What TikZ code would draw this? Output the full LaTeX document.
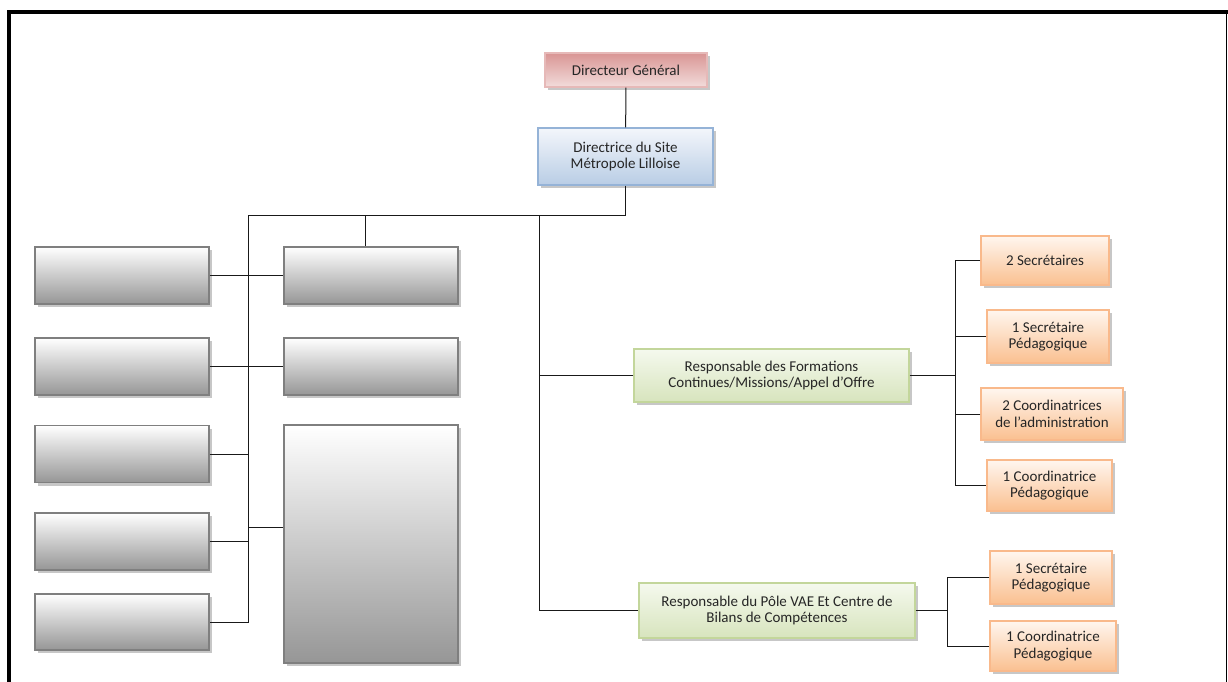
\documentclass[tikz,border=0pt]{standalone}
\usepackage{fontspec}
\setmainfont{Carlito}
\usepackage{tikz}
\usepackage{xcolor}
\usetikzlibrary{shapes, shadows}

\definecolor{pinktop}{RGB}{217,149,148}
\definecolor{pinkbot}{RGB}{242,220,219}
\definecolor{pinkline}{RGB}{230,185,184}
\definecolor{bluetop}{RGB}{243,246,251}
\definecolor{bluebot}{RGB}{185,205,229}
\definecolor{blueline}{RGB}{149,179,215}
\definecolor{greentop}{RGB}{245,249,238}
\definecolor{greenbot}{RGB}{215,228,189}
\definecolor{greenline}{RGB}{195,214,155}
\definecolor{orangetop}{RGB}{255,246,239}
\definecolor{orangebot}{RGB}{250,192,144}
\definecolor{orangeline}{RGB}{249,185,139}
\definecolor{greybot}{RGB}{150,150,150}
\definecolor{greyline}{RGB}{127,127,127}

\tikzset{
	unit/.style		= {rectangle, draw, line width=1.2pt, align=center, inner sep=2pt,
					   text=black!85, font=\fontsize{15}{16.5}\selectfont,
					   drop shadow={shadow xshift=3pt, shadow yshift=-3pt, fill=black!22, opacity=1}},
	head/.style		= {unit, draw=pinkline, top color=pinktop, bottom color=pinkbot},
	site/.style		= {unit, draw=blueline, top color=bluetop, bottom color=bluebot},
	blank/.style		= {unit, draw=greyline, top color=white, bottom color=greybot},
	resp/.style		= {unit, draw=greenline, top color=greentop, bottom color=greenbot},
	staff/.style		= {unit, draw=orangeline, top color=orangetop, bottom color=orangebot},
	link/.style		= {draw=black!90, line width=1pt}
}

\begin{document}
\begin{tikzpicture}[x=1pt, y=-1pt]
\useasboundingbox (0,0) rectangle (1228,682);

\node[head, minimum width=162, minimum height=34]	(dg)	at (626,70)		{Directeur Général};
\node[site, minimum width=175, minimum height=57]	(dir)	at (625.5,156.5)	{Directrice du Site\\Métropole Lilloise};

\node[blank, minimum width=174, minimum height=57]	(g1)	at (122,275.5)	{};
\node[blank, minimum width=174, minimum height=57]	(g2)	at (122,366.5)	{};
\node[blank, minimum width=174, minimum height=57]	(g3)	at (122,454)		{};
\node[blank, minimum width=174, minimum height=57]	(g4)	at (122,541.5)	{};
\node[blank, minimum width=174, minimum height=56]	(g5)	at (122,622)		{};
\node[blank, minimum width=174, minimum height=57]	(h1)	at (371,275.5)	{};
\node[blank, minimum width=174, minimum height=57]	(h2)	at (371,366.5)	{};
\node[blank, minimum width=174, minimum height=238]	(big)	at (371,544)		{};

\node[resp, minimum width=275, minimum height=53]	(rfc)	at (771.5,375.5)	{Responsable des Formations\\Continues/Missions/Appel d’Offre};
\node[resp, minimum width=276, minimum height=55]	(rvae)	at (777,610.5)	{Responsable du Pôle VAE Et Centre de\\Bilans de Compétences};

\node[staff, minimum width=128, minimum height=49]	(s1)	at (1045,260.5)	{2 Secrétaires};
\node[staff, minimum width=122, minimum height=53]	(s2)	at (1048,336.5)	{1 Secrétaire\\Pédagogique};
\node[staff, minimum width=142, minimum height=52]	(s3)	at (1052,414)		{2 Coordinatrices\\de l’administration};
\node[staff, minimum width=125, minimum height=51]	(s4)	at (1049.5,485.5)	{1 Coordinatrice\\Pédagogique};
\node[staff, minimum width=122, minimum height=53]	(v1)	at (1051,577.5)	{1 Secrétaire\\Pédagogique};
\node[staff, minimum width=126, minimum height=50]	(v2)	at (1053,646)		{1 Coordinatrice\\Pédagogique};

\coordinate (bus)	at (625.5,215);
\coordinate (busl)	at (248,215);
\coordinate (bush)	at (365,215);
\coordinate (busr)	at (539,215);
\coordinate (sp1)	at (955,375.5);
\coordinate (sp2)	at (947,610.5);

\draw[link]	(dg) -- (dir);
\draw[link]	(dir.south) -- (bus) -- (busl) |- (g5.east);
\draw[link]	(bush) -- (bush |- h1.north);
\draw[link]	(g1.east) -- (h1.west);
\draw[link]	(g2.east) -- (h2.west);
\draw[link]	(g3.east) -- (g3.east -| busl);
\draw[link]	(g4.east) -- (g4.east -| busl);
\draw[link]	(big.west |- 0,527) -- (busl |- 0,527);
\draw[link]	(busr) |- (rvae.west);
\draw[link]	(rfc.west) -- (rfc.west -| busr);
\draw[link]	(rfc.east) -- (sp1);
\draw[link]	(s1.west) -| (sp1) |- (s4.west);
\draw[link]	(s2.west) -- (s2.west -| sp1);
\draw[link]	(s3.west) -- (s3.west -| sp1);
\draw[link]	(rvae.east) -- (sp2);
\draw[link]	(v1.west) -| (sp2) |- (v2.west);

\draw[line width=4pt]	(9,682) -- (9,12) -- (1228,12);
\draw[line width=1pt]	(1226.5,12) -- (1226.5,682);
\end{tikzpicture}
\end{document}
